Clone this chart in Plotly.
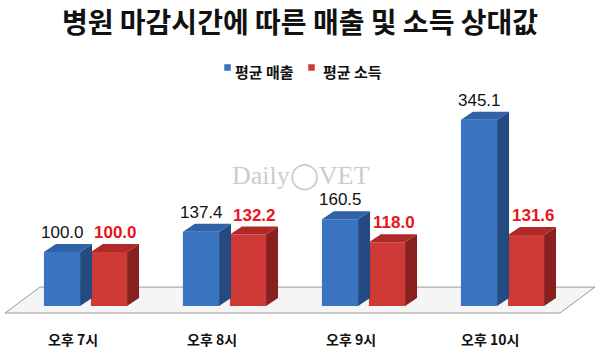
import plotly.graph_objects as go

categories = ["오후 7시", "오후 8시", "오후 9시", "오후 10시"]
sales = [100.0, 137.4, 160.5, 345.1]
income = [100.0, 132.2, 118.0, 131.6]
series_names = ["평균 매출", "평균 소득"]
title_text = "병원 마감시간에 따른 매출 및 소득 상대값"
watermark = "Daily◯VET"

KR = "Noto Sans CJK KR"
NUM = "Liberation Sans"
W, H = 600, 360

# geometry (data units)
BW = 0.26
OFF = 0.169
DX = 0.086
DY = 14.8

styles = [
    dict(front="#3a74c0", side="#234b82", top="#2f62a6", off=-OFF,
         lab=dict(color="#111111", family=NUM, size=17), xshift=0, bold=False,
         leg_sq=224, leg_tx=233),
    dict(front="#d03a36", side="#882020", top="#ad2a28", off=OFF,
         lab=dict(color="#e8141a", family=NUM, size=17), xshift=7, bold=True,
         leg_sq=308, leg_tx=321),
]

fig = go.Figure()
annotations = []

# floor
floor_path = "M -0.579,-13 L -0.327,35 L 3.665,35 L 3.414,-13 Z"
shapes = [dict(type="path", path=floor_path, xref="x", yref="y",
               fillcolor="#f5f5f5", line=dict(color="#9a9a9a", width=1), layer="below")]

for vals, st, name in zip([sales, income], styles, series_names):
    xs = [i + st["off"] for i in range(len(vals))]
    for x, v in zip(xs, vals):
        x0, x1 = x - BW / 2, x + BW / 2
        fig.add_trace(go.Scatter(
            x=[x1, x1, x1 + DX, x1 + DX, x1], y=[0, v, v + DY, DY, 0],
            mode="lines", fill="toself", fillcolor=st["side"],
            line=dict(width=0), hoverinfo="skip", showlegend=False))
        fig.add_trace(go.Scatter(
            x=[x0, x0 + DX, x1 + DX, x1, x0], y=[v, v + DY, v + DY, v, v],
            mode="lines", fill="toself", fillcolor=st["top"],
            line=dict(width=0), hoverinfo="skip", showlegend=False))
        txt = f"{v:.1f}"
        if st["bold"]:
            txt = f"<b>{txt}</b>"
        annotations.append(dict(x=x, y=v + DY, xref="x", yref="y", text=txt,
                                showarrow=False, yanchor="bottom", yshift=0,
                                xshift=st["xshift"], font=st["lab"]))
    fig.add_trace(go.Bar(
        x=xs, y=vals, width=BW, name=name, showlegend=False,
        marker=dict(color=st["front"], line=dict(width=0)),
        hoverinfo="skip"))
    # legend entry (manual, compact like the reference)
    shapes.append(dict(type="rect", xref="paper", yref="paper",
                       x0=st["leg_sq"] / W, x1=(st["leg_sq"] + 7) / W,
                       y0=1 - 71 / H, y1=1 - 64 / H,
                       fillcolor=st["front"], line=dict(color="#ffffff", width=0.5)))
    annotations.append(dict(x=st["leg_tx"] / W, y=1 - 72 / H, xref="paper", yref="paper",
                            text=f"<b>{name}</b>", showarrow=False,
                            xanchor="left", yanchor="middle",
                            font=dict(family=KR, size=15, color="#111111")))

for i, c in enumerate(categories):
    annotations.append(dict(x=i - 0.09, y=-61, xref="x", yref="y",
                            text=f"<b>{c}</b>", showarrow=False,
                            font=dict(family=KR, size=14, color="#111111")))

annotations.append(dict(x=300 / W, y=1 - 176 / H, xref="paper", yref="paper", text=watermark,
                        showarrow=False, borderpad=0,
                        font=dict(family="Liberation Serif", size=26, color="#cccccc")))

fig.update_layout(
    width=W, height=H,
    margin=dict(l=0, r=0, t=0, b=0),
    paper_bgcolor="white", plot_bgcolor="white",
    barmode="overlay",
    title=dict(text=f"<b>{title_text}</b>", x=0.5, xanchor="center",
               y=1 - 23 / H, yanchor="middle",
               font=dict(family=KR, size=28, color="#111111")),
    xaxis=dict(range=[-0.6151, 3.7014], visible=False, fixedrange=True),
    yaxis=dict(range=[-100, 566.67], visible=False, fixedrange=True),
    shapes=shapes,
    annotations=annotations,
    showlegend=False,
)

fig.write_html("out.html")
